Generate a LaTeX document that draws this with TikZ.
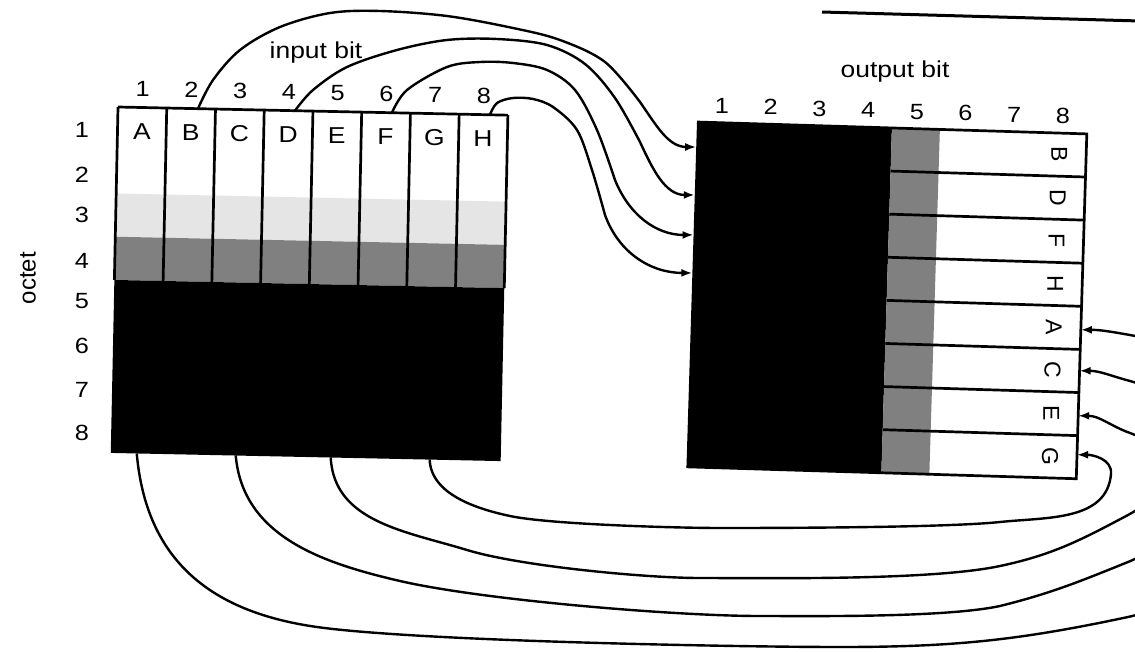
\documentclass[tikz,border=0pt]{standalone}
\usepackage{fontspec}
\setmainfont{Liberation Sans}[FakeStretch=1.15]
\newfontfamily\uprightsans{Liberation Sans}
\usetikzlibrary{arrows.meta}
\begin{document}
\begin{tikzpicture}[x=1pt,y=-1pt,
  edge/.style={line width=2.7pt},
  wire/.style={line width=2.4pt,-{Latex[length=11pt,width=8pt]}},
  num/.style={font=\fontsize{22}{24}\selectfont,inner sep=0pt},
  letter/.style={font=\fontsize{23}{25}\selectfont,inner sep=0pt},
  sidelet/.style={font=\uprightsans\fontsize{23}{25}\selectfont,inner sep=0pt,rotate=-90},
  title/.style={font=\fontsize{23}{25}\selectfont,inner sep=0pt,anchor=base},
  lightrow/.style={fill=black!10},
  midshade/.style={fill=black!50},
]
\useasboundingbox (0,0) rectangle (1135,651);
\clip (0,0) rectangle (1135,651);
\fill[white] (0,0) rectangle (1135,651);

% ---------- input block: 8 octets x 8 bits ----------
\begin{scope}[shift={(118,107)},rotate=-1.2]
  \fill[lightrow] (0,86.5) rectangle (390,129.75);
  \fill[midshade] (0,129.75) rectangle (390,173);
  \fill[black] (0,173) rectangle (390,346);
  \draw[edge] (0,0) -- (390,0);
  \foreach \k in {0,...,8} \draw[edge] (48.75*\k,0) -- (48.75*\k,173);
  \foreach \l [count=\k] in {A,B,C,D,E,F,G,H}
    \node[letter] (in\l) at (48.75*\k-24.375,24) {\l};
  \foreach \k in {1,...,8}
    \node[num] (ibit\k) at (48.75*\k-24.375,-19) {\k};
  % wire end points on the block edges
  \coordinate (srcB) at (80,0);
  \coordinate (srcD) at (177,0);
  \coordinate (srcF) at (274,0);
  \coordinate (srcH) at (372,0);
  \coordinate (srcA) at (26,346);
  \coordinate (srcC) at (125,346);
  \coordinate (srcE) at (220,346);
  \coordinate (srcG) at (319,346);
\end{scope}

% octet numbers and axis titles
\foreach \y [count=\k] in {130,175,215,261,301,346,390,433}
  \node[num] (oct\k) at (82,\y) {\k};
\node[font=\uprightsans\fontsize{24}{26}\selectfont,rotate=90,inner sep=0pt] (octet) at (28,278) {octet};
\node[title] (inbit) at (316,58) {input bit};
\node[title] (outbit) at (895,77) {output bit};

% ---------- output block ----------
\begin{scope}[shift={(697,122)},rotate=-1.75]
  \fill[black] (0,0) rectangle (195,345);
  \fill[midshade] (195,0) rectangle (243,345);
  \draw[edge] (0,0) -- (390,0) -- (390,345) -- (0,345);
  \foreach \k in {1,...,7} \draw[edge] (195,43.125*\k) -- (390,43.125*\k);
  \foreach \l [count=\k] in {B,D,F,H,A,C,E,G}
    \node[sidelet] (out\l) at (363,43.125*\k-21.5625) {\l};
  \foreach \k in {1,...,8}
    \node[num] (obit\k) at (48.75*\k-24.375,-17) {\k};
  \coordinate (tgtB) at (0,25);
  \coordinate (tgtD) at (0,73);
  \coordinate (tgtF) at (0,113);
  \coordinate (tgtH) at (0,151);
  \coordinate (tgtA) at (390,196);
  \coordinate (tgtC) at (390,237);
  \coordinate (tgtE) at (390,282);
  \coordinate (tgtG) at (390,321);
\end{scope}

% ---------- wires from the top of the input block ----------
\draw[wire] plot[smooth,tension=0.55] coordinates {(srcB) (213,80) (240,50) (280,27) (330,13) (380,11) (447,16) (513,28) (560,40) (605,62) (640,102)}
  to[out=-55,in=180] (tgtB);
\draw[wire] plot[smooth,tension=0.55] coordinates {(srcD) (313,90) (347,67) (397,50) (447,40) (497,39) (547,45) (585,64) (615,98) (640,142)}
  to[out=-65,in=180] (tgtD);
\draw[wire] plot[smooth,tension=0.55] coordinates {(srcF) (407,90) (447,67) (480,62) (513,63) (547,70) (575,90) (597,130) (615,180)}
  to[out=-68,in=180] (tgtF);
\draw[wire] plot[smooth,tension=0.55] coordinates {(srcH) (497,103) (513,98) (533,99) (553,107) (577,130) (592,170) (605,215)}
  to[out=-70,in=180] (tgtH);

% ---------- wires from the bottom of the input block ----------
\draw[wire] (srcG) to[out=-88,in=168,looseness=0.9] (510,516)
  to[out=-12,in=180,looseness=0.5] (720,528)
  to[out=0,in=186,looseness=0.5] (1000,522)
  to[out=6,in=-95] (1111,474)
  to[out=85,in=0] (tgtG);
\draw[wire] (srcE) to[out=-87,in=163] (467,550)
  to[out=-17,in=180,looseness=0.6] (700,578)
  to[out=0,in=192,looseness=0.6] (1000,566)
  to[out=12,in=-152] (1128,515)
  to[out=28,in=-20,looseness=1.6] (1130,433)
  to[out=160,in=0] (tgtE);
\draw[wire] (srcC) to[out=-85,in=167] (400,581)
  to[out=-13,in=180,looseness=0.6] (760,616)
  to[out=0,in=192,looseness=0.6] (1000,606)
  to[out=14,in=-158] (1128,562)
  to[out=22,in=-15,looseness=1.3] (1130,381)
  to[out=165,in=0] (tgtC);
\draw[wire] (srcA) to[out=-85,in=172,looseness=1.1] (317,627)
  to[out=-8,in=180,looseness=0.5] (840,647)
  to[out=0,in=-168] (1128,617)
  to[out=12,in=-10,looseness=1.2] (1130,335)
  to[out=170,in=0] (tgtA);

% rule along the top right
\coordinate (ruleL) at (822,12);
\coordinate (ruleR) at (1140,21);
\draw[line width=3pt] (ruleL) -- (ruleR);
\end{tikzpicture}
\end{document}
